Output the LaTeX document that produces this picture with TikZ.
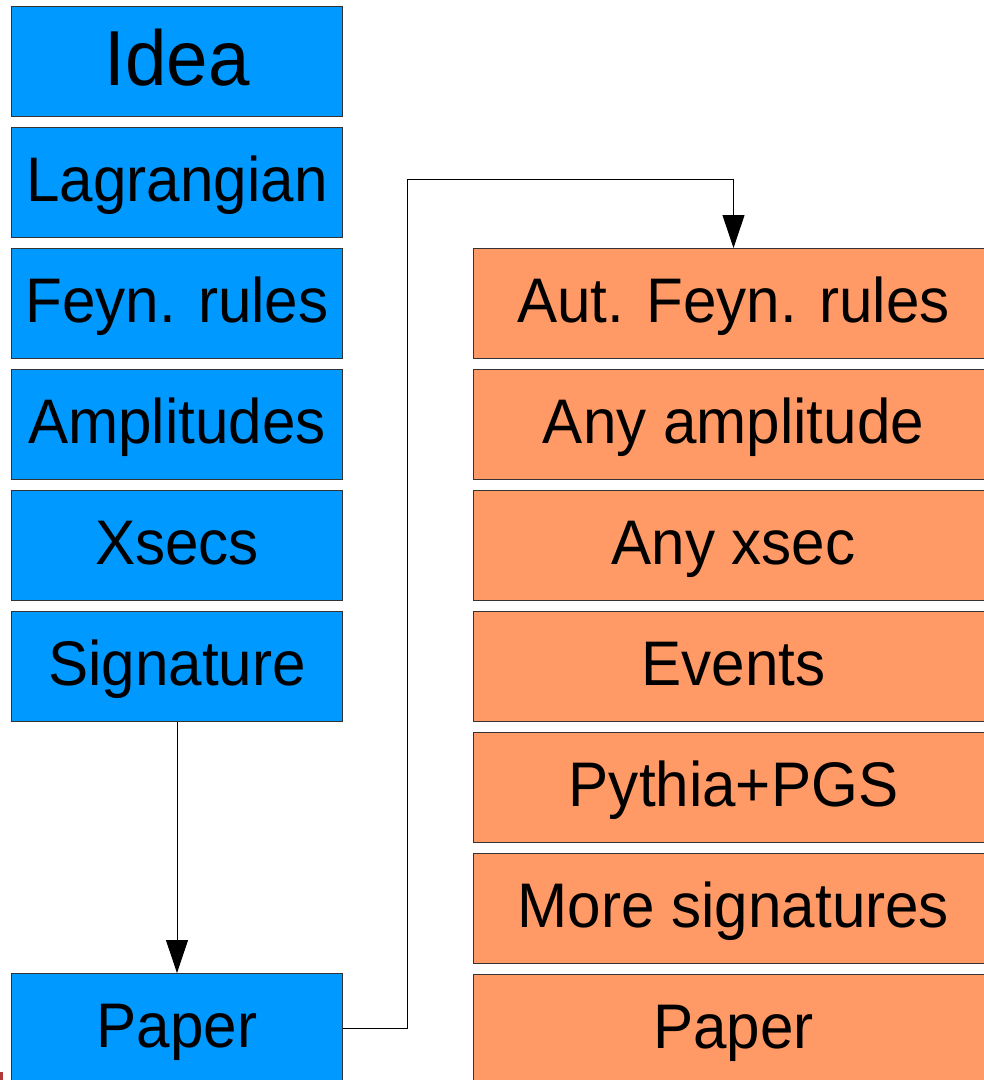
\documentclass[tikz,border=0pt]{standalone}
\usepackage{fontspec}
\setmainfont[FakeStretch=0.955]{Liberation Sans}
\usetikzlibrary{arrows.meta}
\definecolor{stepblue}{HTML}{0099FF}
\definecolor{steporange}{HTML}{FF9966}
\definecolor{edgegray}{HTML}{333333}
\definecolor{markred}{HTML}{B03A3A}
\begin{document}
\begin{tikzpicture}[x=1pt,y=-1pt,
  box/.style={rectangle,draw=edgegray,line width=1pt,inner sep=0pt,
    minimum height=110pt,anchor=north west,
    font=\fontsize{63}{70}\selectfont,text height=45pt,text depth=7pt},
  bluebox/.style={box,fill=stepblue,minimum width=331pt},
  orangebox/.style={box,fill=steporange,minimum width=520pt},
  link/.style={draw=black,line width=0.9pt},
  tip/.style={-{Triangle[length=33pt,width=22pt,fill=black]}}]
\useasboundingbox (0,0) rectangle (984,1080);
\begin{scope}
\clip (0,0) rectangle (984,1080);
% manual workflow
\node[bluebox,font=\fontsize{78}{86}\selectfont,text height=56pt,text depth=8pt] (idea) at (11,6) {Idea};
\node[bluebox] (lag) at (11,127) {Lagrangian};
\node[bluebox] (feyn) at (11,248) {Feyn. rules};
\node[bluebox] (amp) at (11,369) {Amplitudes};
\node[bluebox] (xsec) at (11,490) {Xsecs};
\node[bluebox] (sig) at (11,611) {Signature};
\node[bluebox] (paper) at (11,973) {Paper};
% automated workflow
\node[orangebox] (aut) at (473,248) {Aut. Feyn. rules};
\node[orangebox] (anyamp) at (473,369) {Any amplitude};
\node[orangebox] (anyxsec) at (473,490) {Any xsec};
\node[orangebox] (events) at (473,611) {Events};
\node[orangebox] (pythia) at (473,732) {Pythia+PGS};
\node[orangebox] (moresig) at (473,853) {More signatures};
\node[orangebox] (paper2) at (473,974) {Paper};
% connectors
\draw[link,tip] (sig.south) -- (paper.north);
\coordinate (bend) at (407,179);
\draw[link,tip] (paper.east) -| (bend) -| (aut.north);
% small mark at the lower left edge
\fill[markred] (0,1072) rectangle (3,1080);
\end{scope}
\end{tikzpicture}
\end{document}
